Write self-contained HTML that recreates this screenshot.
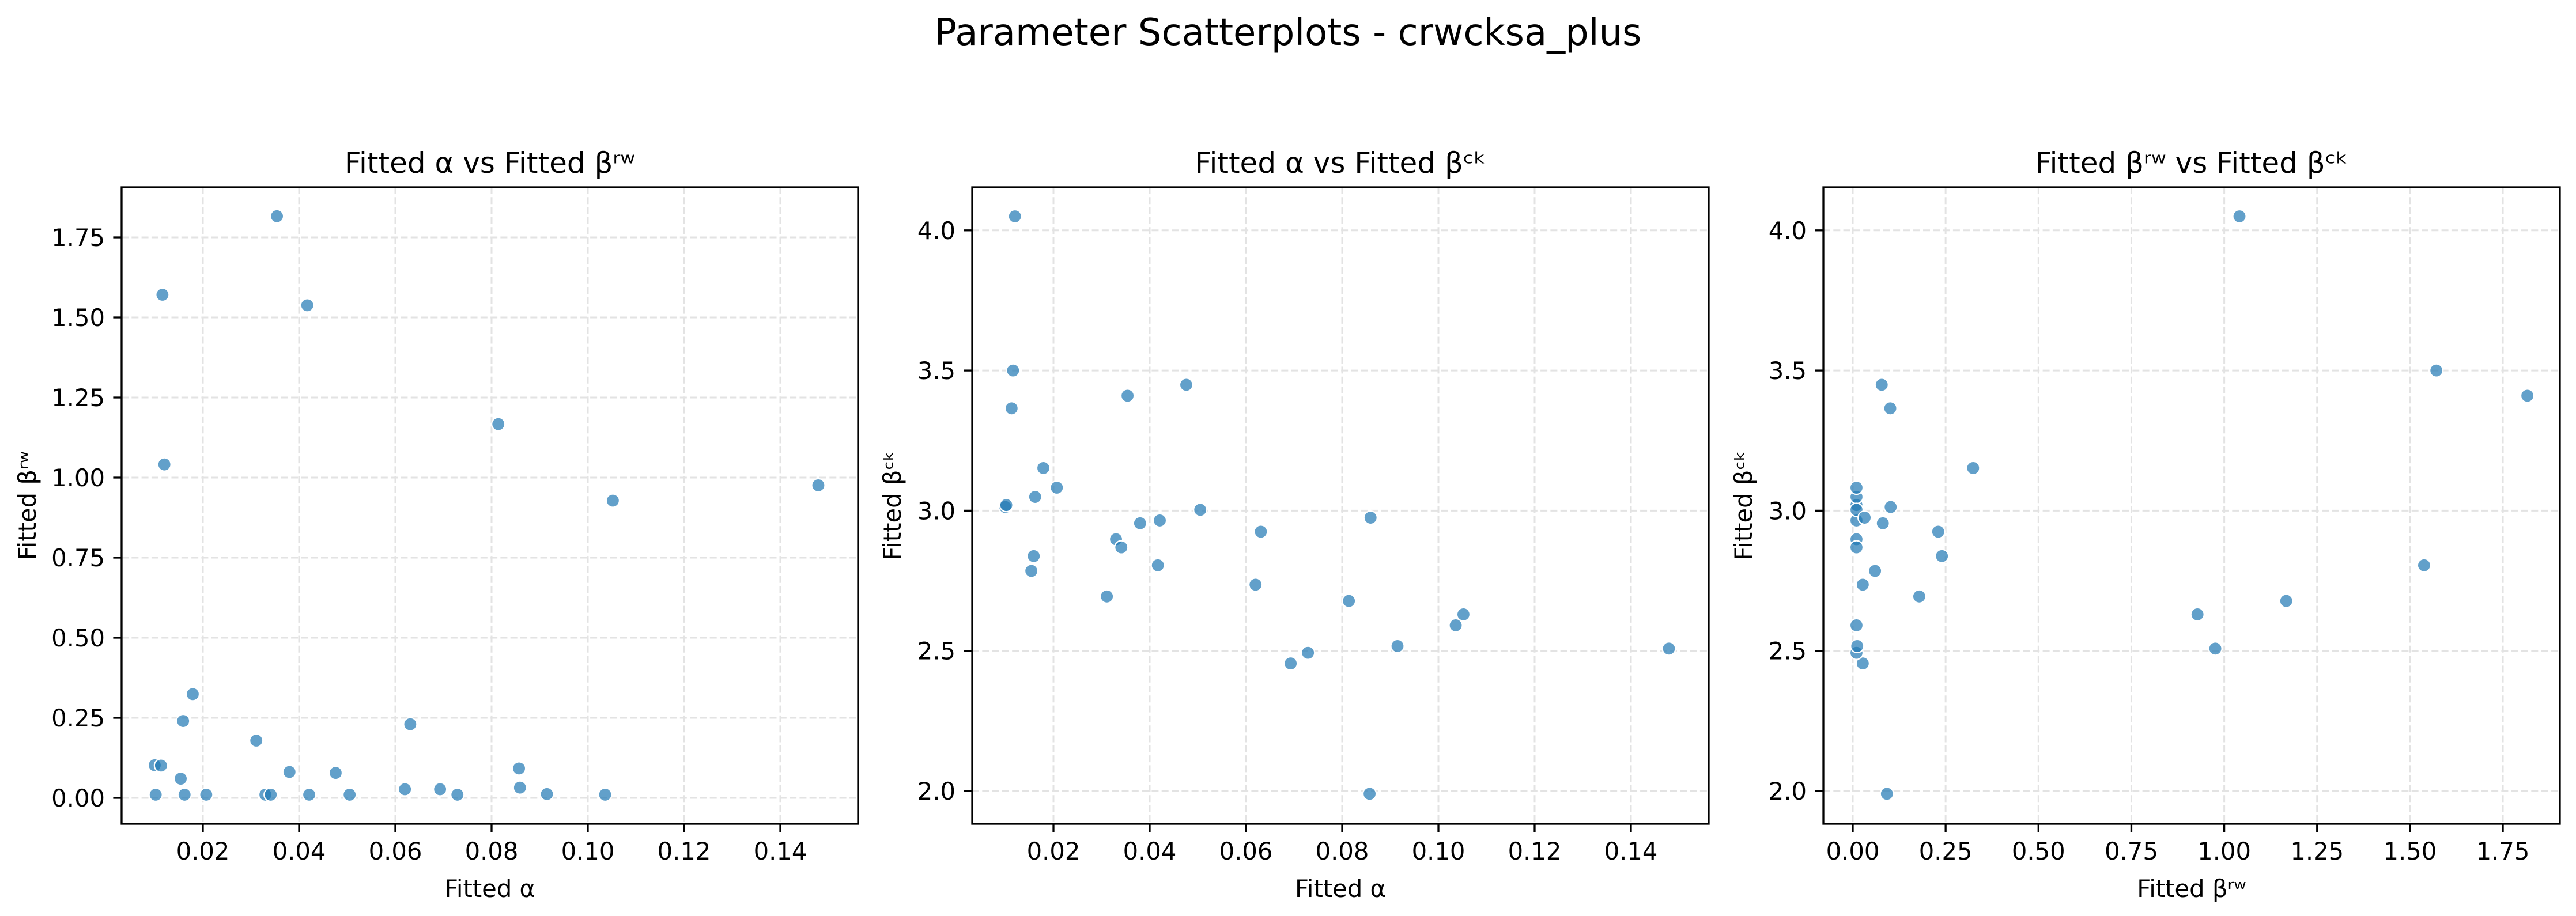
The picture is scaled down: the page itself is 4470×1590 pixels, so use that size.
<!DOCTYPE html>
<html><head><meta charset="utf-8">
<style>
html,body{margin:0;padding:0;background:#fff;}
svg{display:block;font-family:"DejaVu Sans","Liberation Sans",sans-serif;}
</style></head>
<body>
<svg id="fig" width="4470" height="1590" viewBox="0 0 4470 1590" xmlns="http://www.w3.org/2000/svg">
<rect width="4470" height="1590" fill="#fff"/>
<text x="2235" y="78" text-anchor="middle" font-size="64">Parameter Scatterplots - crwcksa_plus</text>
</svg>
<script>
const alphaVals = [0.0354,0.0116,0.0417,0.0814,0.0120,0.1052,0.1479,0.0179,0.0159,0.0631,0.0311,0.0100,0.0113,0.0154,0.0380,0.0476,0.0857,0.0102,0.0162,0.0207,0.0330,0.0341,0.0421,0.0505,0.0620,0.0693,0.0729,0.0859,0.0915,0.1036];
const betaRwVals = [1.816,1.571,1.538,1.167,1.041,0.928,0.976,0.324,0.240,0.230,0.179,0.102,0.101,0.060,0.081,0.078,0.092,0.010,0.010,0.010,0.010,0.010,0.010,0.010,0.027,0.027,0.010,0.032,0.012,0.010];
const betaCkVals = [3.41,3.50,2.805,2.678,4.05,2.630,2.508,3.152,2.838,2.925,2.694,3.013,3.365,2.785,2.955,3.449,1.99,3.02,3.049,3.082,2.898,2.869,2.965,3.003,2.736,2.455,2.493,2.975,2.517,2.591];
const alphaTicks = [0.02,0.04,0.06,0.08,0.10,0.12,0.14];
const betaRwTicks = [0.00,0.25,0.50,0.75,1.00,1.25,1.50,1.75];
const betaCkTicks = [2.0,2.5,3.0,3.5,4.0];

const NS = "http://www.w3.org/2000/svg";
const svg = document.getElementById('fig');
function mk(tag, attrs, parent){ const e=document.createElementNS(NS,tag); for(const k in attrs) e.setAttribute(k,attrs[k]); (parent||svg).appendChild(e); return e; }

function panel(cfg){
  const g = mk('g',{});
  
  
  const L=cfg.left, R=cfg.left+1278, T=325, B=1430;
  const sx = v => cfg.x0px + (v - cfg.x0) * cfg.xs;
  const sy = v => cfg.y0px - (v - cfg.y0) * cfg.ys;
  // grid
  cfg.xticks.forEach(t=>{
    const x=sx(t);
    const gl=mk('line',{x1:x,x2:x,y1:T,y2:B,stroke:'#e3e3e3','stroke-width':3,'stroke-dasharray':'12,5.3'},g);
    
    
  });
  cfg.yticks.forEach(t=>{
    const y=sy(t);
    const gl=mk('line',{x1:L,x2:R,y1:y,y2:y,stroke:'#e3e3e3','stroke-width':3,'stroke-dasharray':'12,5.3'},g);
    
    
  });
  // points
  for(let i=0;i<cfg.xs_data.length;i++){
    const c=mk('circle',{cx:sx(cfg.xs_data[i]),cy:sy(cfg.ys_data[i]),r:11.5,fill:'#1f77b4','fill-opacity':0.7,stroke:'#fff','stroke-width':2.2},g);
    
    
  }
  // spines
  const sp=mk('rect',{x:L,y:T,width:R-L,height:B-T,fill:'none',stroke:'#000','stroke-width':3.3},g);
  
  
  // ticks
  cfg.xticks.forEach(t=>{
    const x=sx(t);
    mk('line',{x1:x,x2:x,y1:B,y2:B+14.6,stroke:'#000','stroke-width':3.3},g);
    const tx=mk('text',{x:x,y:1492,'text-anchor':'middle','font-size':41.7},g);
    tx.textContent=t.toFixed(cfg.xdec);
    
    
  });
  cfg.yticks.forEach(t=>{
    const y=sy(t);
    mk('line',{x1:L-14.6,x2:L,y1:y,y2:y,stroke:'#000','stroke-width':3.3},g);
    const tx=mk('text',{x:L-29,y:y+15,'text-anchor':'end','font-size':41.7},g);
    tx.textContent=t.toFixed(cfg.ydec);
    
    
  });
  const tt=mk('text',{x:(L+R)/2,y:300,'text-anchor':'middle','font-size':50},g);
  tt.textContent=cfg.title;
  
  
  const xl=mk('text',{x:(L+R)/2,y:1557,'text-anchor':'middle','font-size':41.7},g);
  xl.textContent=cfg.xlabel;
  
  
  const yx=cfg.ylabelX, yy=(T+B)/2;
  const yl=mk('text',{x:yx,y:yy,'text-anchor':'middle','font-size':41.7,transform:`rotate(-90 ${yx} ${yy})`},g);
  yl.textContent=cfg.ylabel;
  
  
}

panel({name:'panel-alpha-vs-beta-rw',left:211,x0:0.02,x0px:352,xs:8350,y0:0,y0px:1385,ys:556,
  xticks:alphaTicks,yticks:betaRwTicks,xdec:2,ydec:2,xs_data:alphaVals,ys_data:betaRwVals,
  title:'Fitted α vs Fitted βʳʷ',xlabel:'Fitted α',ylabel:'Fitted βʳʷ',ylabelX:62});
panel({name:'panel-alpha-vs-beta-ck',left:1687,x0:0.02,x0px:1828,xs:8350,y0:2.0,y0px:1373,ys:486.6,
  xticks:alphaTicks,yticks:betaCkTicks,xdec:2,ydec:1,xs_data:alphaVals,ys_data:betaCkVals,
  title:'Fitted α vs Fitted βᶜᵏ',xlabel:'Fitted α',ylabel:'Fitted βᶜᵏ',ylabelX:1563});
panel({name:'panel-beta-rw-vs-beta-ck',left:3164,x0:0,x0px:3215,xs:644.6,y0:2.0,y0px:1373,ys:486.6,
  xticks:betaRwTicks,yticks:betaCkTicks,xdec:2,ydec:1,xs_data:betaRwVals,ys_data:betaCkVals,
  title:'Fitted βʳʷ vs Fitted βᶜᵏ',xlabel:'Fitted βʳʷ',ylabel:'Fitted βᶜᵏ',ylabelX:3040});
</script>
</body></html>
